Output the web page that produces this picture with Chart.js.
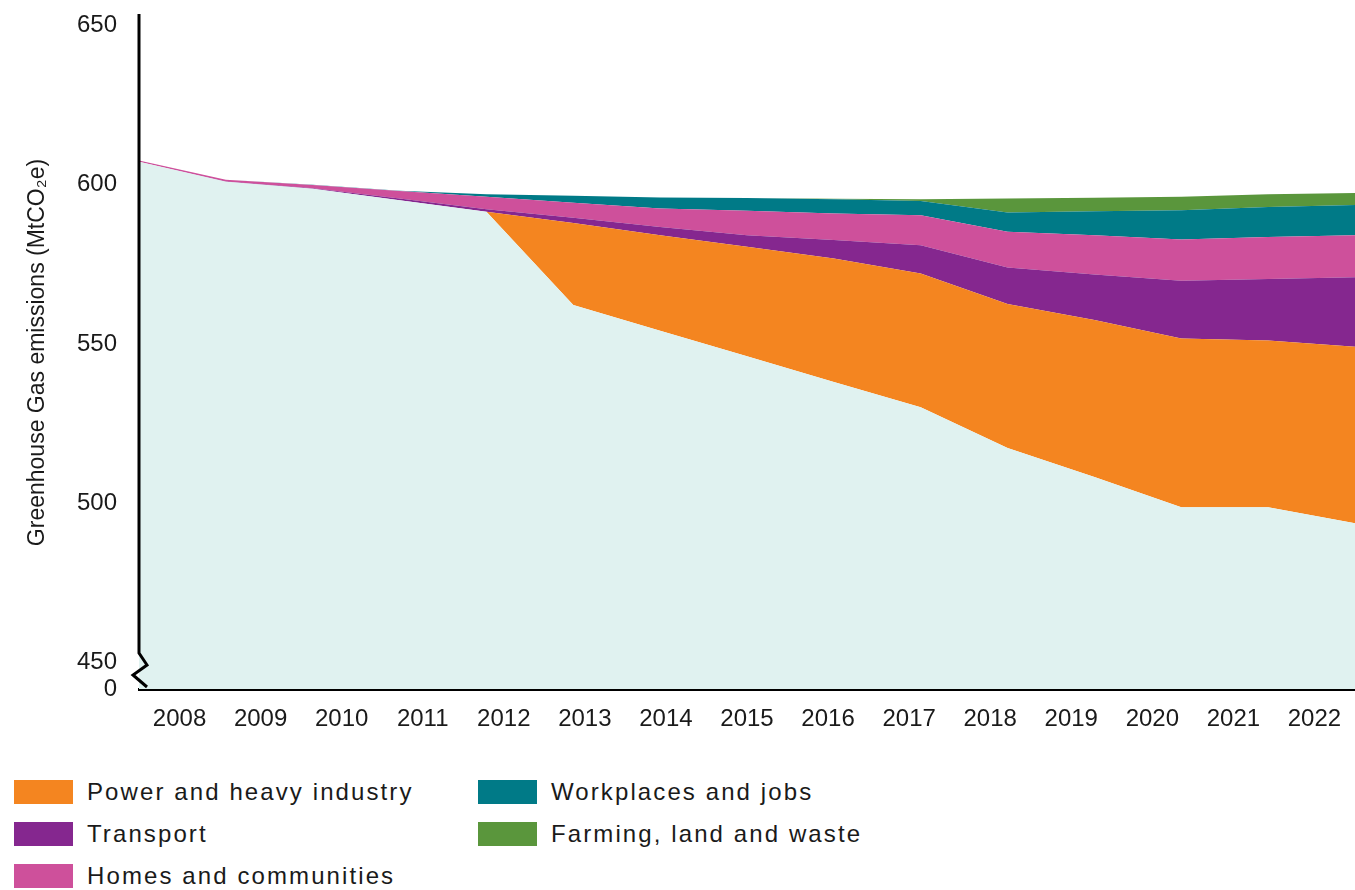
<!DOCTYPE html>
<html>
<head>
<meta charset="utf-8">
<script src="https://cdn.jsdelivr.net/npm/chart.js@4.4.1/dist/chart.umd.min.js"></script>
<style>
  body { margin: 0; background: #fff; }
  #wrap { position: relative; width: 1355px; height: 890px; }
  #chartBox { position: absolute; left: 0; top: 0; width: 1355px; height: 750px; }
  #legend {
    position: absolute; left: 14px; top: 780px;
    display: grid; grid-template-columns: 464px 400px; grid-template-rows: 42px 42px 42px;
    grid-auto-flow: column;
    font-family: 'Liberation Sans', Arial, sans-serif; font-size: 24px; letter-spacing: 2.1px; color: #1a1a1a;
  }
  .item { display: flex; align-items: flex-start; }
  .swatch { width: 59px; height: 24px; margin-right: 14px; flex: none; }
  .item span { line-height: 24px; }
</style>
</head>
<body>
<div id="wrap">
  <div id="chartBox"><canvas id="emissionsGraph"></canvas></div>
  <div id="legend"></div>
</div>
<script>
const years = ['2008','2009','2010','2011','2012','2013','2014','2015','2016','2017','2018','2019','2020','2021','2022'];

// remaining emissions (bottom layer) and reductions stacked on top, MtCO2e
const remaining  = [607.2, 600.9, 598.7, 595.1, 591.5, 562.2, 554.1, 546.1, 538.0, 530.1, 517.3, 508.2, 498.7, 498.7, 493.7];
const power      = [0, 0, 0, 0, 0, 25.8, 30.0, 34.4, 38.8, 42.0, 45.2, 49.3, 53.0, 52.4, 55.4];
const transport  = [0, 0.1, 0.2, 0.6, 0.8, 1.6, 2.6, 3.6, 5.8, 8.9, 11.5, 14.3, 18.1, 19.3, 21.8];
const homes      = [0.4, 0.6, 1.0, 2.3, 3.9, 4.7, 5.8, 7.7, 8.4, 9.4, 11.2, 12.3, 13.0, 13.2, 13.2];
const workplaces = [0, 0, 0.1, 0.1, 0.8, 2.2, 3.5, 4.0, 4.4, 4.5, 6.1, 7.6, 9.2, 9.4, 9.5];
const farming    = [0, 0, 0, 0, 0, 0, 0, 0, 0.2, 0.5, 4.4, 4.2, 4.2, 4.0, 3.8];

const yTicks = [450, 500, 550, 600, 650];
const yMin = 441.6; // shown as "0" (broken axis)
const yMax = 653.0;

Chart.defaults.font.family = "'Liberation Sans', Arial, sans-serif";
Chart.defaults.color = '#1a1a1a';

// y axis line with the break zigzag near the bottom
const brokenAxis = {
  id: 'brokenAxis',
  afterDraw(chart) {
    const { ctx, chartArea } = chart;
    const l = chartArea.left, t = chartArea.top, b = chartArea.bottom;
    ctx.save();
    ctx.strokeStyle = '#000';
    ctx.lineWidth = 3;
    ctx.beginPath();
    ctx.moveTo(l, t - 2);
    ctx.lineTo(l, b - 36);
    ctx.lineTo(l + 8, b - 24);
    ctx.lineTo(l - 6, b - 14);
    ctx.lineTo(l + 8, b - 2);
    ctx.stroke();
    ctx.restore();
  }
};

function layer(label, data, color, fill) {
  return {
    label: label,
    data: data,
    backgroundColor: color,
    borderWidth: 0,
    pointRadius: 0,
    tension: 0,
    fill: fill
  };
}

const ctx = document.getElementById('emissionsGraph');
const chart = new Chart(ctx, {
  type: 'line',
  data: {
    labels: years,
    datasets: [
      layer('Remaining emissions', remaining, 'rgb(224, 242, 240)', 'start'),
      layer('Power and heavy industry', power, 'rgb(244, 133, 32)', '-1'),
      layer('Transport', transport, 'rgb(133, 39, 143)', '-1'),
      layer('Homes and communities', homes, 'rgb(206, 80, 155)', '-1'),
      layer('Workplaces and jobs', workplaces, 'rgb(0, 122, 135)', '-1'),
      layer('Farming, land and waste', farming, 'rgb(90, 150, 60)', '-1')
    ]
  },
  options: {
    responsive: true,
    maintainAspectRatio: false,
    animation: false,
    layout: { padding: { top: 16, left: 0, right: 0, bottom: 0 } },
    plugins: {
      legend: { display: false },
      tooltip: { enabled: false }
    },
    scales: {
      x: { display: false, offset: false },
      x2: {
        type: 'category',
        labels: years,
        position: 'bottom',
        offset: true,
        grid: { display: false, drawTicks: false },
        border: { color: '#000', width: 3 },
        ticks: { autoSkip: false, maxRotation: 0, padding: 16, font: { size: 24 } },
        afterFit: s => { s.height = 61; s.paddingLeft = 0; s.paddingRight = 0; }
      },
      y: {
        stacked: true,
        min: yMin,
        max: yMax,
        border: { display: false },
        grid: { display: false, drawTicks: false },
        afterBuildTicks: s => { s.ticks = [yMin].concat(yTicks).map(v => ({ value: v })); },
        afterFit: s => { s.width = 139; s.paddingTop = 0; s.paddingBottom = 0; },
        ticks: {
          autoSkip: false,
          padding: 22,
          font: { size: 24 },
          callback: v => v === yMin ? '0' : String(v)
        },
        title: {
          display: true,
          text: 'Greenhouse Gas emissions (MtCO₂e)',
          font: { size: 23 },
          padding: { top: 24, bottom: 0 }
        }
      }
    }
  },
  plugins: [brokenAxis]
});

// html legend, built from the datasets (bottom layer left out)
const legendEl = document.getElementById('legend');
chart.data.datasets.slice(1).forEach(ds => {
  const item = document.createElement('div');
  item.className = 'item';
  const sw = document.createElement('div');
  sw.className = 'swatch';
  sw.style.background = ds.backgroundColor;
  const txt = document.createElement('span');
  txt.textContent = ds.label;
  item.appendChild(sw);
  item.appendChild(txt);
  legendEl.appendChild(item);
});
</script>
</body>
</html>
